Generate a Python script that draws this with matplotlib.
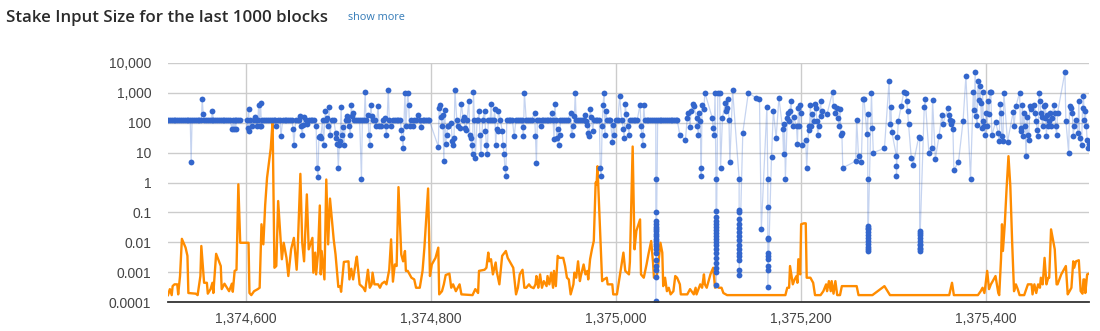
import matplotlib
matplotlib.use('Agg')
import matplotlib.pyplot as plt
from matplotlib.ticker import FixedLocator, FixedFormatter, NullLocator

# block heights below are stored as offsets from this height
base_height = 1374000

# stake input sizes (blue), one entry per input, in block order
blue_blk = [
    516, 518, 520, 522, 524, 526, 528, 530, 532, 534,
    536, 538, 540, 541, 542, 544, 546, 548, 550, 552,
    553, 554, 555, 557, 559, 561, 563, 564, 565, 567,
    569, 571, 573, 575, 577, 579, 581, 583, 585, 586,
    587, 588, 589, 590, 592, 594, 601, 602, 603, 604,
    605, 607, 609, 610, 611, 612, 613, 614, 615, 616,
    617, 618, 620, 622, 624, 626, 628, 630, 632, 633,
    635, 637, 638, 640, 642, 644, 646, 648, 650, 651,
    652, 654, 656, 658, 659, 660, 661, 662, 663, 665,
    666, 668, 670, 672, 674, 676, 677, 678, 679, 680,
    681, 683, 684, 686, 687, 688, 689, 690, 691, 693,
    695, 697, 698, 699, 700, 701, 702, 703, 704, 705,
    706, 708, 709, 711, 712, 713, 714, 715, 716, 717,
    719, 721, 723, 725, 726, 728, 729, 730, 732, 733,
    734, 735, 736, 738, 740, 741, 743, 744, 746, 748,
    750, 751, 752, 754, 755, 757, 759, 761, 763, 765,
    767, 768, 769, 770, 772, 773, 775, 776, 777, 779,
    781, 782, 784, 786, 788, 789, 791, 793, 795, 797,
    798, 808, 809, 810, 811, 812, 813, 814, 815, 816,
    817, 818, 819, 822, 823, 824, 825, 826, 828, 829,
    831, 833, 835, 836, 837, 838, 839, 841, 842, 843,
    844, 845, 846, 847, 848, 850, 851, 852, 853, 854,
    856, 858, 859, 860, 861, 862, 864, 865, 866, 868,
    869, 870, 871, 872, 873, 875, 877, 878, 879, 880,
    881, 882, 884, 886, 888, 890, 892, 894, 896, 898,
    899, 900, 901, 903, 905, 907, 909, 912, 913, 914,
    915, 917, 919, 920, 921, 923, 925, 927, 929, 931,
    932, 933, 934, 935, 936, 937, 938, 939, 940, 942,
    944, 946, 948, 951, 952, 954, 955, 956, 957, 959,
    961, 963, 965, 967, 968, 969, 970, 971, 972, 973,
    975, 976, 978, 980, 982, 983, 984, 985, 986, 987,
    988, 989, 990, 992, 994, 996, 997, 998, 1000, 1002,
    1004, 1006, 1008, 1009, 1010, 1011, 1013, 1014, 1015, 1017,
    1019, 1021, 1023, 1026, 1027, 1028, 1029, 1030, 1031, 1033,
    1035, 1037, 1039, 1041, 1043, 1043, 1043, 1043, 1043, 1043,
    1043, 1043, 1043, 1043, 1043, 1043, 1043, 1043, 1043, 1043,
    1043, 1043, 1043, 1043, 1043, 1045, 1047, 1049, 1051, 1053,
    1055, 1057, 1059, 1061, 1063, 1065, 1066, 1069, 1075, 1077,
    1078, 1080, 1081, 1083, 1084, 1087, 1088, 1089, 1090, 1091,
    1092, 1092, 1093, 1095, 1096, 1104, 1105, 1106, 1107, 1108,
    1108, 1108, 1108, 1108, 1108, 1108, 1108, 1108, 1108, 1108,
    1108, 1108, 1108, 1108, 1108, 1108, 1108, 1108, 1110, 1112,
    1113, 1115, 1118, 1119, 1120, 1121, 1122, 1123, 1126, 1133,
    1133, 1133, 1133, 1133, 1133, 1133, 1133, 1133, 1133, 1133,
    1133, 1133, 1133, 1133, 1133, 1137, 1143, 1151, 1155, 1157,
    1163, 1164, 1164, 1164, 1164, 1164, 1164, 1164, 1164, 1164,
    1164, 1168, 1170, 1173, 1176, 1180, 1181, 1182, 1183, 1185,
    1186, 1187, 1188, 1189, 1191, 1192, 1195, 1196, 1197, 1198,
    1199, 1200, 1201, 1205, 1206, 1208, 1209, 1210, 1211, 1212,
    1214, 1215, 1216, 1217, 1218, 1219, 1221, 1222, 1223, 1228,
    1234, 1235, 1237, 1239, 1240, 1241, 1242, 1243, 1244, 1245,
    1259, 1260, 1262, 1265, 1267, 1268, 1271, 1272, 1272, 1272,
    1272, 1272, 1272, 1272, 1272, 1272, 1272, 1272, 1272, 1272,
    1276, 1277, 1278, 1290, 1295, 1296, 1297, 1298, 1303, 1303,
    1303, 1304, 1305, 1308, 1311, 1313, 1314, 1315, 1316, 1319,
    1321, 1327, 1328, 1328, 1328, 1328, 1328, 1328, 1328, 1328,
    1328, 1328, 1328, 1333, 1334, 1338, 1341, 1342, 1345, 1349,
    1352, 1353, 1359, 1360, 1361, 1362, 1363, 1364, 1365, 1370,
    1375, 1378, 1383, 1386, 1387, 1388, 1389, 1390, 1391, 1392,
    1393, 1394, 1395, 1396, 1397, 1398, 1399, 1400, 1401, 1402,
    1403, 1404, 1405, 1406, 1410, 1413, 1414, 1415, 1416, 1417,
    1418, 1419, 1423, 1429, 1430, 1432, 1436, 1437, 1438, 1439,
    1440, 1441, 1442, 1443, 1444, 1445, 1446, 1447, 1448, 1452,
    1453, 1454, 1455, 1456, 1457, 1458, 1459, 1460, 1461, 1462,
    1463, 1464, 1465, 1466, 1467, 1468, 1469, 1470, 1471, 1473,
    1474, 1475, 1476, 1477, 1485, 1486, 1489, 1490, 1492, 1493,
    1494, 1495, 1497, 1499, 1500, 1501, 1503, 1504, 1505, 1506,
    1507, 1508, 1509, 1510, 1511,
]
blue_size = [
    128, 128, 128, 128, 128, 128, 128, 128, 128, 128,
    128, 128, 128, 4.9, 128, 128, 128, 128, 128, 128,
    611, 202, 128, 128, 128, 128, 128, 255, 128, 128,
    128, 128, 128, 128, 128, 128, 128, 128, 64, 128,
    64, 128, 64, 128, 128, 128, 128, 65, 290, 55,
    128, 77, 128, 160, 128, 77, 128, 400, 77, 450,
    77, 128, 128, 128, 128, 128, 128, 128, 128, 76,
    128, 128, 36, 128, 128, 128, 128, 128, 128, 60,
    18, 128, 128, 128, 165, 76, 38, 87, 150, 128,
    92, 128, 128, 128, 128, 76, 3.1, 1.56, 33, 35,
    30, 128, 18, 255, 128, 145, 76, 330, 38, 128,
    128, 47, 30, 20, 3.1, 18, 25, 330, 38, 70,
    18, 128, 165, 128, 76, 38, 405, 165, 213, 128,
    128, 128, 128, 1.36, 128, 128, 1070, 128, 187, 38,
    18, 385, 165, 128, 128, 76, 355, 76, 76, 128,
    145, 76, 38, 1220, 128, 76, 128, 128, 128, 128,
    128, 59, 30, 14, 1000, 76, 1000, 405, 76, 128,
    76, 128, 128, 187, 128, 71, 128, 128, 128, 128,
    128, 16, 313, 405, 153, 76, 187, 5.2, 275, 19,
    38, 76, 76, 100, 24, 18, 31, 1220, 128, 76,
    67, 426, 128, 153, 67, 59, 128, 523, 40, 31,
    18, 9, 1070, 128, 6.7, 128, 128, 242, 40, 9,
    128, 242, 55, 18, 9, 128, 128, 437, 128, 128,
    298, 18, 64, 52, 255, 128, 55, 18, 9, 3.1,
    1.6, 128, 128, 128, 128, 35, 128, 128, 128, 128,
    71, 35, 1020, 128, 128, 128, 128, 213, 35, 4.5,
    128, 128, 76, 128, 128, 128, 128, 128, 128, 213,
    128, 29, 426, 128, 31, 64, 18, 38, 128, 128,
    128, 128, 128, 213, 38, 76, 165, 1020, 128, 128,
    128, 128, 128, 187, 112, 87, 46, 35, 298, 153,
    55, 128, 128, 128, 128, 3.1, 1.6, 76, 385, 1020,
    38, 255, 128, 128, 128, 23, 87, 38, 128, 128,
    770, 128, 64, 31, 426, 197, 76, 38, 128, 128,
    128, 128, 128, 405, 76, 38, 18, 405, 128, 128,
    128, 128, 128, 128, 128, 1.36, 0.1, 0.05, 0.04, 0.033,
    0.028, 0.023, 0.019, 0.016, 0.013, 0.011, 0.009, 0.0075, 0.006, 0.0045,
    0.0026, 0.0016, 0.0012, 0.0007, 0.00011, 128, 128, 128, 128, 128,
    128, 128, 128, 128, 128, 128, 128, 38, 27, 145,
    213, 71, 242, 426, 355, 145, 76, 38, 213, 112,
    3.1, 1.6, 405, 298, 1020, 145, 67, 40, 1020, 1.36,
    0.11, 0.07, 0.05, 0.04, 0.032, 0.025, 0.02, 0.016, 0.013, 0.01,
    0.008, 0.006, 0.0045, 0.003, 0.002, 0.0014, 0.001, 0.00036, 1020, 1020,
    3.1, 145, 460, 255, 313, 645, 128, 4.9, 1220, 1.36,
    0.12, 0.1, 0.06, 0.04, 0.03, 0.022, 0.016, 0.012, 0.008, 0.006,
    0.0045, 0.0035, 0.0025, 0.0012, 0.0008, 47, 1020, 676, 611, 0.028,
    330, 1.36, 0.15, 0.014, 0.0125, 0.0045, 0.0035, 0.0027, 0.0016, 0.0012,
    0.00033, 7.4, 255, 31, 676, 64, 9.3, 92, 1.36, 145,
    213, 112, 255, 523, 76, 153, 76, 20, 313, 76,
    405, 213, 18, 27, 3.1, 59, 76, 405, 76, 197,
    112, 426, 313, 112, 38, 76, 523, 165, 242, 197,
    1070, 355, 213, 313, 145, 76, 298, 40, 46, 3.1,
    5.2, 128, 7.6, 5.0, 645, 611, 42, 197, 1.36, 0.035,
    0.03, 0.027, 0.022, 0.018, 0.014, 0.011, 0.009, 0.007, 0.006, 0.005,
    1020, 67, 10, 14, 2440, 92, 330, 49, 7.6, 3.5,
    1.7, 33, 112, 355, 1070, 1020, 523, 255, 92, 6.7,
    4.0, 33, 30, 0.024, 0.02, 0.017, 0.014, 0.011, 0.009, 0.008,
    0.0065, 0.0058, 0.0052, 330, 645, 10, 14, 595, 6.2, 36,
    178, 92, 313, 187, 128, 92, 118, 61, 2.6, 4.9,
    118, 3580, 1.36, 1070, 275, 5000, 174, 87, 2440, 595,
    1660, 460, 67, 1070, 118, 76, 38, 213, 76, 523,
    202, 1070, 1070, 38, 104, 46, 24, 437, 213, 37,
    24, 1020, 23, 224, 76, 355, 1020, 67, 52, 405,
    37, 213, 76, 7.6, 153, 38, 27, 355, 298, 405,
    213, 112, 59, 35, 1020, 523, 213, 153, 76, 355,
    145, 405, 35, 187, 76, 112, 213, 76, 145, 405,
    213, 76, 40, 213, 5000, 118, 10, 355, 313, 213,
    35, 76, 128, 46, 523, 31, 18, 313, 770, 128,
    242, 76, 27, 14, 20,
]

# second series (orange line)
orange_blk = [
    516, 518, 520, 521, 523, 526, 527, 529, 531, 535,
    537, 538, 546, 548, 551, 552, 555, 558, 559, 562,
    564, 565, 568, 573, 574, 577, 582, 585, 586, 588,
    590, 592, 594, 603, 604, 606, 609, 613, 615, 617,
    619, 621, 623, 627, 629, 631, 633, 635, 637, 639,
    641, 644, 646, 649, 652, 655, 656, 659, 661, 663,
    666, 668, 672, 673, 675, 676, 678, 680, 681, 682,
    685, 687, 689, 691, 695, 697, 700, 702, 703, 706,
    711, 712, 714, 716, 719, 720, 723, 727, 729, 732,
    734, 736, 737, 739, 743, 745, 747, 750, 752, 755,
    757, 759, 761, 763, 765, 768, 770, 772, 773, 775,
    777, 779, 782, 784, 788, 791, 793, 797, 799, 801,
    805, 808, 809, 812, 814, 816, 820, 822, 824, 827,
    831, 833, 845, 848, 851, 852, 858, 860, 862, 863,
    865, 867, 870, 871, 874, 877, 881, 883, 889, 892,
    894, 896, 899, 901, 903, 906, 908, 911, 913, 914,
    915, 916, 918, 920, 922, 925, 926, 928, 930, 932,
    933, 935, 937, 939, 943, 945, 947, 949, 951, 954,
    955, 957, 959, 961, 962, 965, 967, 969, 970, 972,
    974, 976, 978, 979, 980, 981, 983, 985, 987, 990,
    991, 996, 997, 1001, 1005, 1006, 1008, 1010, 1014, 1015,
    1018, 1020, 1022, 1026, 1027, 1030, 1033, 1035, 1038, 1040,
    1041, 1044, 1045, 1048, 1050, 1051, 1053, 1055, 1057, 1059,
    1062, 1064, 1066, 1069, 1070, 1077, 1080, 1084, 1086, 1087,
    1091, 1093, 1095, 1096, 1098, 1102, 1105, 1107, 1108, 1111,
    1114, 1116, 1120, 1183, 1185, 1187, 1188, 1191, 1193, 1195,
    1196, 1197, 1199, 1200, 1203, 1205, 1206, 1210, 1213, 1215,
    1221, 1224, 1227, 1228, 1230, 1232, 1233, 1235, 1237, 1239,
    1242, 1244, 1260, 1262, 1277, 1290, 1296, 1360, 1363, 1365,
    1391, 1394, 1396, 1398, 1399, 1401, 1403, 1405, 1407, 1410,
    1413, 1414, 1416, 1417, 1418, 1420, 1422, 1424, 1426, 1428,
    1430, 1432, 1434, 1436, 1441, 1445, 1449, 1450, 1452, 1454,
    1456, 1458, 1459, 1461, 1463, 1465, 1467, 1468, 1470, 1474,
    1476, 1477, 1481, 1486, 1488, 1490, 1492, 1494, 1495, 1497,
    1500, 1502, 1504, 1505, 1506, 1507, 1509, 1511,
]
orange_size = [
    0.00017, 0.00027, 0.00017, 0.00034, 0.00039, 0.00039, 0.00018, 0.00074, 0.013, 0.0066,
    0.0035, 0.0002, 0.00019, 0.00017, 0.00074, 0.0075, 0.00044, 0.00044, 0.00019, 0.00027,
    0.00044, 0.0002, 0.0041, 0.0016, 0.00027, 0.00041, 0.00023, 0.00041, 0.00022, 0.0011,
    0.0012, 0.87, 0.0096, 0.0096, 0.0002, 0.00017, 0.00023, 0.00027, 0.0003, 0.04,
    0.0085, 0.18, 1.43, 14, 112, 0.0014, 0.0016, 0.24, 0.024, 0.0027,
    0.0096, 0.003, 0.00074, 0.0058, 0.014, 0.0012, 0.0045, 1.95, 0.0096, 0.0023,
    0.4, 0.0058, 0.014, 0.00096, 0.0045, 0.00084, 0.0039, 0.17, 0.00084, 0.0051,
    0.00057, 1.26, 0.0085, 0.29, 0.0125, 0.0039, 0.00032, 0.00034, 0.00022, 0.0022,
    0.0023, 0.00057, 0.0013, 0.00057, 0.0023, 0.0033, 0.00039, 0.0003, 0.00023, 0.0012,
    0.0003, 0.00039, 0.00096, 0.00039, 0.00039, 0.0003, 0.00041, 0.00048, 0.00039, 0.0012,
    0.0125, 0.00048, 0.0018, 0.0016, 0.7, 0.0039, 0.0023, 0.0051, 0.0011, 0.0011,
    0.00084, 0.00065, 0.00057, 0.0003, 0.0003, 0.0011, 0.0066, 0.63, 0.00074, 0.0018,
    0.003, 0.0066, 0.00018, 0.00023, 0.00039, 0.0008, 0.00089, 0.0003, 0.00039, 0.00023,
    0.00039, 0.00018, 0.00017, 0.00027, 0.0002, 0.0011, 0.0012, 0.0014, 0.0045, 0.0023,
    0.0027, 0.00084, 0.0021, 0.0011, 0.00039, 0.0035, 0.0051, 0.003, 0.0014, 0.00018,
    0.0003, 0.00084, 0.0012, 0.0003, 0.0003, 0.00039, 0.00032, 0.00029, 0.00039, 0.00074,
    0.0005, 0.0003, 0.00084, 0.0003, 0.0005, 0.00034, 0.00074, 0.00039, 0.00096, 0.0003,
    0.0011, 0.00034, 0.0035, 0.003, 0.003, 0.0016, 0.00065, 0.00057, 0.00018, 0.00039,
    0.00096, 0.00065, 0.0023, 0.0005, 0.00074, 0.0018, 0.00084, 0.0011, 0.00057, 0.0027,
    0.0058, 0.011, 1.0, 0.87, 3.5, 0.58, 0.018, 0.0005, 0.00057, 0.00065,
    0.00039, 0.00039, 0.00018, 0.00018, 0.0011, 0.0018, 0.0045, 0.0011, 0.00084, 0.0022,
    16, 0.0058, 0.024, 0.058, 0.00084, 0.00065, 0.0018, 0.0039, 0.011, 0.0021,
    0.00065, 0.00074, 0.0011, 0.0096, 0.0045, 0.00034, 0.00065, 0.00023, 0.0003, 0.00018,
    0.00023, 0.00074, 0.00065, 0.00039, 0.00018, 0.00018, 0.00027, 0.00018, 0.0003, 0.00018,
    0.00039, 0.0003, 0.00084, 0.00039, 0.0003, 0.00084, 0.0014, 0.0003, 0.00039, 0.0003,
    0.0003, 0.0002, 0.00017, 0.00017, 0.0003, 0.0003, 0.0016, 0.00039, 0.00057, 0.00074,
    0.00044, 0.0027, 0.00084, 0.04, 0.043, 0.043, 0.00065, 0.00065, 0.00044, 0.00017,
    0.00017, 0.00023, 0.00039, 0.00023, 0.0005, 0.00023, 0.0005, 0.00019, 0.0005, 0.00017,
    0.00017, 0.00034, 0.00034, 0.00017, 0.00017, 0.00034, 0.00017, 0.00017, 0.00044, 0.00017,
    0.00017, 0.00023, 0.0003, 0.0002, 0.00034, 0.0011, 0.00027, 0.00039, 0.0005, 0.00074,
    0.0002, 0.00017, 0.003, 0.04, 0.0051, 0.04, 0.66, 7.6, 0.76, 0.0096,
    0.00023, 0.00039, 0.00027, 0.00017, 0.00017, 0.00039, 0.00039, 0.00018, 0.00039, 0.0002,
    0.00039, 0.0003, 0.00065, 0.00039, 0.003, 0.00039, 0.00065, 0.00065, 0.027, 0.0058,
    0.00039, 0.00039, 0.00084, 0.0016, 0.00018, 0.00023, 0.0003, 0.0023, 0.0014, 0.0023,
    0.0025, 0.00023, 0.00019, 0.00057, 0.00057, 0.0002, 0.00084, 0.00089,
]

x_ticks = [1374600, 1374800, 1375000, 1375200, 1375400]
x_labels = ['1,374,600', '1,374,800', '1,375,000', '1,375,200', '1,375,400']
y_ticks = [1e-4, 1e-3, 1e-2, 1e-1, 1, 10, 100, 1000, 10000]
y_labels = ['0.0001', '0.001', '0.01', '0.1', '1', '10', '100', '1,000', '10,000']

title = 'Stake Input Size for the last 1000 blocks'

blue_h = [base_height + b for b in blue_blk]
orange_h = [base_height + b for b in orange_blk]

fig = plt.figure(figsize=(11, 3.31), dpi=100)
ax = fig.add_axes([168 / 1100, 29 / 331, 921 / 1100, 239 / 331])

ax.plot(blue_h, blue_size, color='#3366cc', lw=0.9, alpha=0.28, zorder=2)
ax.plot(orange_h, orange_size, color='#ff8c00', lw=1.7, zorder=3)
ax.plot(blue_h, blue_size, 'o', color='#3366cc', ms=4.2, mew=0, zorder=4)

ax.set_yscale('log')
ax.set_ylim(1e-4, 1e4)
ax.set_xlim(1374516, 1375511)
ax.yaxis.set_major_locator(FixedLocator(y_ticks))
ax.yaxis.set_major_formatter(FixedFormatter(y_labels))
ax.yaxis.set_minor_locator(NullLocator())
ax.xaxis.set_major_locator(FixedLocator(x_ticks))
ax.xaxis.set_major_formatter(FixedFormatter(x_labels))

ax.grid(True, color='#cccccc', lw=1)
ax.set_axisbelow(True)
for s in ['top', 'right', 'left']:
    ax.spines[s].set_visible(False)
ax.spines['bottom'].set_color('#333333')
ax.spines['bottom'].set_linewidth(1.3)
ax.spines['bottom'].set_zorder(5)

ax.tick_params(axis='both', length=0, labelsize=10, labelcolor='#444444')
ax.tick_params(axis='y', pad=12)
ax.tick_params(axis='x', pad=7)
for lab in ax.get_xticklabels() + ax.get_yticklabels():
    lab.set_family('Liberation Sans')

fig.text(6 / 1100, 1 - 18 / 331, title, ha='left', va='center', fontsize=12.2,
         color='#2b2b2b', family='Open Sans', weight='semibold')
fig.text(348 / 1100, 1 - 17 / 331, 'show more', ha='left', va='center', fontsize=7.8,
         color='#337ab7', family='Open Sans')

fig.savefig('out.png', dpi=100)
